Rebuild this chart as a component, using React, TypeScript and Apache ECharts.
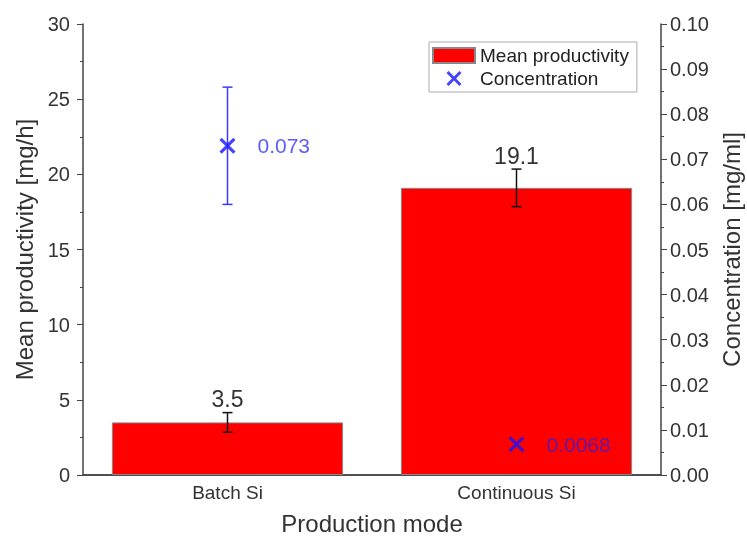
import React, { useEffect, useRef } from "react";
import * as echarts from "echarts";

const categories = ["Batch Si", "Continuous Si"];
const productivity = [3.5, 19.1];
const productivityErr = [0.65, 1.25];
const concentration = [0.073, 0.0068];
const concentrationErr = [0.013, 0];

const FONT = "Liberation Sans, Arial, sans-serif";
const AXIS = "#444";
const XPATH = "path://M0,1.4L1.4,0L5,3.6L8.6,0L10,1.4L6.4,5L10,8.6L8.6,10L5,6.4L1.4,10L0,8.6L3.6,5Z";
const CONC_LABEL_COLORS = ["#3333ff", "#3a1fcf"];

export default function App() {
  const ref = useRef<HTMLDivElement>(null);
  useEffect(() => {
    const chart = echarts.init(ref.current!, null, { renderer: "svg" });
    const errRender = (color: string, showLabel: boolean) => (params: any, api: any) => {
      const idx = api.value(0);
      const center = api.value(1);
      const err = api.value(2);
      const children: any[] = [];
      const top = api.coord([idx, center + err]);
      const bot = api.coord([idx, center - err]);
      const cap = 5;
      if (err > 0) {
        children.push(
          { type: "line", shape: { x1: top[0], y1: top[1], x2: bot[0], y2: bot[1] }, style: { stroke: color, lineWidth: 1.5 } },
          { type: "line", shape: { x1: top[0] - cap, y1: top[1], x2: top[0] + cap, y2: top[1] }, style: { stroke: color, lineWidth: 1.5 } },
          { type: "line", shape: { x1: bot[0] - cap, y1: bot[1], x2: bot[0] + cap, y2: bot[1] }, style: { stroke: color, lineWidth: 1.5 } }
        );
      }
      if (showLabel) {
        children.push({
          type: "text",
          style: {
            text: String(center),
            x: top[0],
            y: top[1] - 2,
            align: "center",
            verticalAlign: "bottom",
            fill: "#333",
            font: `23px ${FONT}`,
          },
        });
      }
      return { type: "group", children };
    };
    chart.setOption({
      animation: false,
      grid: { left: 83, right: 86, top: 24, bottom: 64, outerBoundsMode: "none" },
      legend: {
        orient: "vertical",
        left: 429,
        top: 42,
        width: 211,
        itemWidth: 42,
        itemHeight: 15,
        itemGap: 4,
        padding: [4, 8, 4, 3],
        borderColor: "#aaa",
        borderWidth: 1,
        backgroundColor: "#fff",
        textStyle: { fontFamily: FONT, fontSize: 19, color: "#222" },
        data: [
          { name: "Mean productivity", icon: "rect" },
          { name: "Concentration" },
        ],
      },
      xAxis: [
        {
          type: "category",
          data: categories,
          position: "bottom",
          axisLine: { lineStyle: { color: AXIS, width: 1.5 } },
          axisTick: { inside: true, alignWithLabel: true, length: 6, lineStyle: { color: AXIS } },
          axisLabel: { fontFamily: FONT, fontSize: 19, color: "#333", margin: 8 },
          name: "Production mode",
          nameLocation: "middle",
          nameGap: 36,
          nameTextStyle: { fontFamily: FONT, fontSize: 24, color: "#333" },
        },
        {
          type: "category",
          data: categories,
          position: "top",
          axisLine: { lineStyle: { color: AXIS, width: 1.5 } },
          axisTick: { inside: true, alignWithLabel: true, length: 6, lineStyle: { color: AXIS } },
          axisLabel: { show: false },
        },
      ],
      yAxis: [
        {
          type: "value",
          min: 0,
          max: 30,
          interval: 5,
          splitLine: { show: false },
          axisLine: { show: true, lineStyle: { color: AXIS, width: 1.5 } },
          axisTick: { show: true, length: 6, lineStyle: { color: AXIS } },
          minorTick: { show: true, splitNumber: 2, length: 3, lineStyle: { color: AXIS } },
          axisLabel: { fontFamily: FONT, fontSize: 20, color: "#333", margin: 13 },
          name: "Mean productivity [mg/h]",
          nameLocation: "middle",
          nameGap: 47,
          nameTextStyle: { fontFamily: FONT, fontSize: 24, color: "#333" },
        },
        {
          type: "value",
          min: 0,
          max: 0.1,
          interval: 0.01,
          position: "right",
          splitLine: { show: false },
          axisLine: { show: true, lineStyle: { color: AXIS, width: 1.5 } },
          axisTick: { show: true, length: 6, lineStyle: { color: AXIS } },
          minorTick: { show: true, splitNumber: 2, length: 3, lineStyle: { color: AXIS } },
          axisLabel: {
            fontFamily: FONT,
            fontSize: 20,
            color: "#333",
            margin: 9,
            formatter: (v: number) => v.toFixed(2),
          },
          name: "Concentration [mg/ml]",
          nameLocation: "middle",
          nameGap: 56,
          nameTextStyle: { fontFamily: FONT, fontSize: 24, color: "#333" },
        },
      ],
      series: [
        {
          name: "Mean productivity",
          type: "bar",
          data: productivity,
          barWidth: "80%",
          itemStyle: { color: "#ff0000", borderColor: "#888", borderWidth: 1 },
          z: 2,
        },
        {
          name: "prodErr",
          type: "custom",
          data: productivity.map((v, i) => [i, v, productivityErr[i]]),
          renderItem: errRender("#111", true),
          encode: { x: 0, y: 1 },
          z: 3,
        },
        {
          name: "concErr",
          type: "custom",
          yAxisIndex: 1,
          data: concentration.map((v, i) => [i, v, concentrationErr[i]]),
          renderItem: errRender("#3a3aff", false),
          encode: { x: 0, y: 1 },
          z: 3,
        },
        {
          name: "Concentration",
          type: "scatter",
          yAxisIndex: 1,
          data: concentration.map((v, i) => ({ value: v, label: { color: CONC_LABEL_COLORS[i] } })),
          symbol: XPATH,
          symbolSize: 16,
          symbolKeepAspect: true,
          itemStyle: { color: "#1414ff" },
          label: {
            show: true,
            position: "right",
            distance: 22,
            formatter: "{c}",
            fontFamily: FONT,
            fontSize: 21,
            color: "#3333ff",
          },
          z: 4,
        },
      ],
    });
    return () => chart.dispose();
  }, []);
  return <div ref={ref} style={{ position: "fixed", left: 0, top: 0, width: 747, height: 539 }} />;
}
